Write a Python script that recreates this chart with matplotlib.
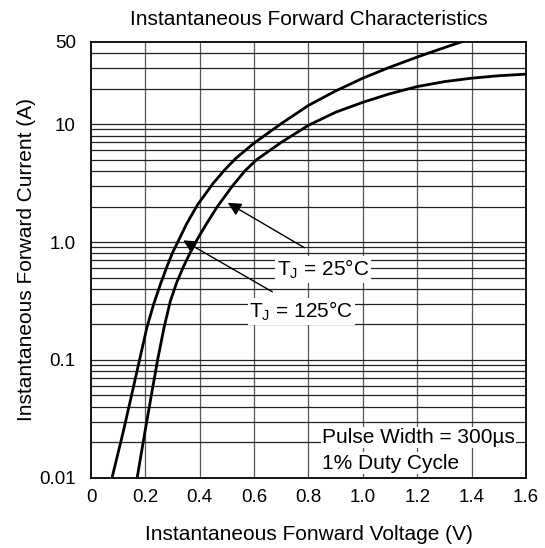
import matplotlib.pyplot as plt
import numpy as np

plt.rcParams['font.family'] = ['Liberation Sans', 'DejaVu Sans']

# curve readings (V, A)
v_125 = [0.079, 0.118, 0.155, 0.180, 0.205, 0.230, 0.255, 0.280, 0.300, 0.321, 0.352, 0.392,
         0.450, 0.493, 0.533, 0.600, 0.700, 0.800, 0.900, 1.000, 1.100, 1.200, 1.300, 1.365]
i_125 = [0.0104, 0.0243, 0.0575, 0.1035, 0.186, 0.295, 0.436, 0.624, 0.813, 1.02, 1.43, 2.07,
         3.16, 4.12, 5.13, 6.9, 10.1, 14.4, 19.1, 24.5, 30.4, 37.0, 44.5, 50.0]

v_25 = [0.171, 0.198, 0.225, 0.245, 0.269, 0.292, 0.315, 0.339, 0.370, 0.389, 0.425, 0.465,
        0.521, 0.567, 0.610, 0.700, 0.800, 0.900, 1.000, 1.100, 1.200, 1.300, 1.400, 1.500, 1.600]
i_25 = [0.0104, 0.0243, 0.055, 0.10, 0.19, 0.316, 0.452, 0.61, 0.86, 1.035, 1.43, 2.0,
        3.0, 4.03, 5.0, 7.0, 9.77, 12.6, 15.3, 18.1, 20.8, 22.9, 24.5, 25.7, 26.5]

xticks = [0, 0.2, 0.4, 0.6, 0.8, 1.0, 1.2, 1.4, 1.6]
xlabels = ['0', '0.2', '0.4', '0.6', '0.8', '1.0', '1.2', '1.4', '1.6']
yticks = [0.01, 0.1, 1.0, 10, 50]
ylabels = ['0.01', '0.1', '1.0', '10', '50']

fig = plt.figure(figsize=(5.45, 5.48), dpi=100)
ax = fig.add_axes([0.167, 0.128, 0.798, 0.796])
ax.set_yscale('log')
ax.set_xlim(0, 1.6)
ax.set_ylim(0.01, 50)

# grid: vertical at 0.2 V steps, horizontal at every 1-9 decade step
for x in xticks[1:-1]:
    ax.axvline(x, color='#555555', lw=0.9, zorder=1)
for dec in [0.01, 0.1, 1, 10]:
    for m in range(1, 10):
        y = dec * m
        if 0.01 < y < 50:
            ax.axhline(y, color='#222222', lw=0.9, zorder=1)

ax.plot(v_125, i_125, color='black', lw=2.0, zorder=3, solid_joinstyle='round')
ax.plot(v_25, i_25, color='black', lw=2.0, zorder=3, solid_joinstyle='round')

ax.set_xticks(xticks)
ax.set_xticklabels(xlabels)
ax.set_yticks(yticks)
ax.set_yticklabels(ylabels)
ax.yaxis.set_minor_locator(plt.NullLocator())
ax.tick_params(length=0, labelsize=13.5)
ax.tick_params(axis='x', pad=8)
ax.tick_params(axis='y', pad=11)
for s in ax.spines.values():
    s.set_linewidth(1.3)

ax.set_title('Instantaneous Forward Characteristics', fontsize=15, pad=12)
ax.set_xlabel('Instantaneous Fonward Voltage (V)', fontsize=15, labelpad=14)
ax.set_ylabel('Instantaneous Forward Current (A)', fontsize=15, labelpad=2)

box = dict(facecolor='white', edgecolor='none', pad=1)
ax.annotate('', xy=(0.494, 2.21), xytext=(0.794, 0.87),
            arrowprops=dict(arrowstyle='-|>', color='black', lw=1.0, mutation_scale=20), zorder=4)
ax.annotate('', xy=(0.330, 1.06), xytext=(0.676, 0.368),
            arrowprops=dict(arrowstyle='-|>', color='black', lw=1.0, mutation_scale=20), zorder=4)
ax.text(0.684, 0.586, r'T$_\mathregular{J}$ = 25°C', fontsize=15, va='center', ha='left', bbox=box, zorder=5)
ax.text(0.582, 0.258, r'T$_\mathregular{J}$ = 125°C', fontsize=15, va='center', ha='left', bbox=box, zorder=5)
ax.text(0.85, 0.022, 'Pulse Width = 300µs', fontsize=15, va='center', ha='left', bbox=box, zorder=5)
ax.text(0.85, 0.0133, '1% Duty Cycle', fontsize=15, va='center', ha='left', bbox=box, zorder=5)

fig.savefig('out.png', dpi=100)
